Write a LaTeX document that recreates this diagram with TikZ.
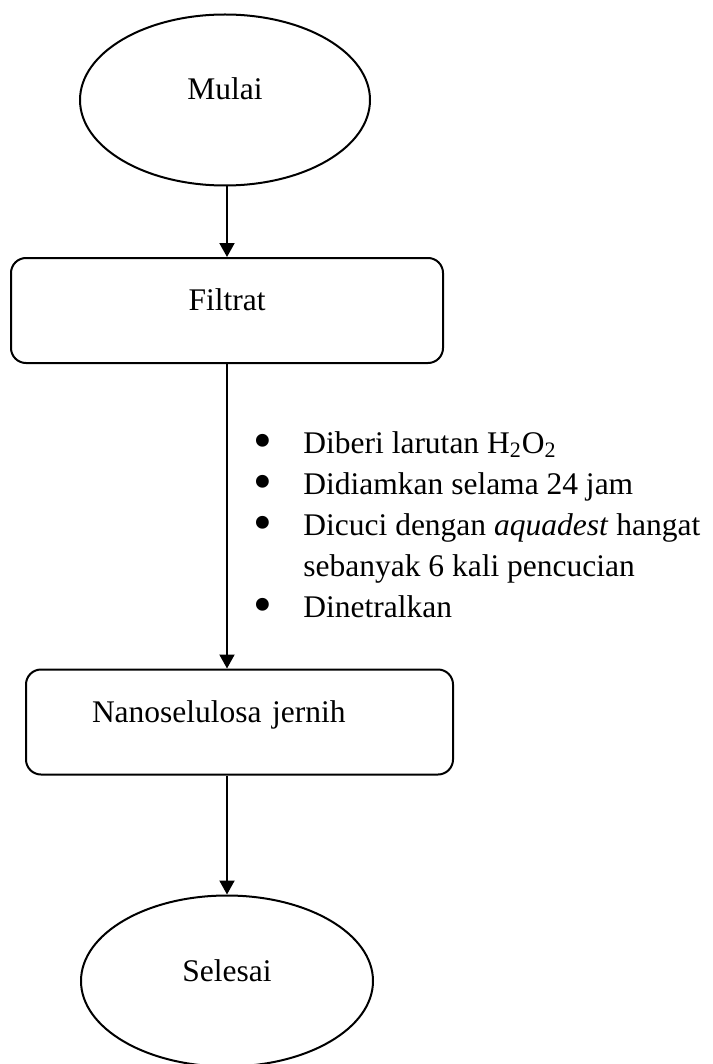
\documentclass[tikz,border=0pt]{standalone}
\usepackage{fontspec}
\setmainfont{Liberation Serif}
\usepackage{tikz}
\usetikzlibrary{shapes.geometric, arrows.meta}
\tikzset{terminal/.style={ellipse, draw, line width=1pt, minimum width=145pt, minimum height=85.5pt, inner sep=0pt, text height=0.7em, text depth=0.7em}}
\tikzset{process/.style={rectangle, rounded corners=7.5pt, draw, line width=1pt, minimum height=52.5pt, inner sep=0pt, text height=0.7em, text depth=0.7em}}
\tikzset{flow/.style={line width=1pt, -{Triangle[length=7pt, width=7.5pt]}}}
\newcommand{\stepbullet}{\makebox[23.5pt][l]{\hspace*{-1.5pt}\raisebox{-2.5pt}[0.6em][0pt]{\scalebox{1.7}{\textbullet}}}}

\begin{document}
\begin{tikzpicture}[x=0.5pt, y=-0.5pt, font=\fontsize{15.75pt}{20.5pt}\selectfont]
            \useasboundingbox (0, 0) rectangle (712, 1064);
            \node[terminal] (mulai) at (225, 100) {Mulai};
            \node[process, minimum width=216pt] (filtrat) at (227, 310.5) {Filtrat};
            \node[process, minimum width=213.5pt, text width=147.5pt, inner xsep=33pt, align=left] (nano) at (239.5, 722) {Nanoselulosa jernih};
            \node[terminal, minimum width=146pt] (selesai) at (227, 981) {Selesai};
            \node[anchor=base west, align=left, inner sep=0pt] (steps) at (256, 617) {\stepbullet Diberi larutan H\textsubscript{2}O\textsubscript{2}\\
                \stepbullet Didiamkan selama 24 jam\\
                \stepbullet Dicuci dengan \textit{aquadest} hangat\\
                \hspace*{23.5pt}sebanyak 6 kali pencucian\\
                \stepbullet Dinetralkan};
            \draw[flow] (mulai.south -| filtrat.north) -- (filtrat.north);
            \draw[flow] (filtrat.south) -- (filtrat.south |- nano.north);
            \draw[flow] (selesai.north |- nano.south) -- (selesai.north);
        \end{tikzpicture}
\end{document}
